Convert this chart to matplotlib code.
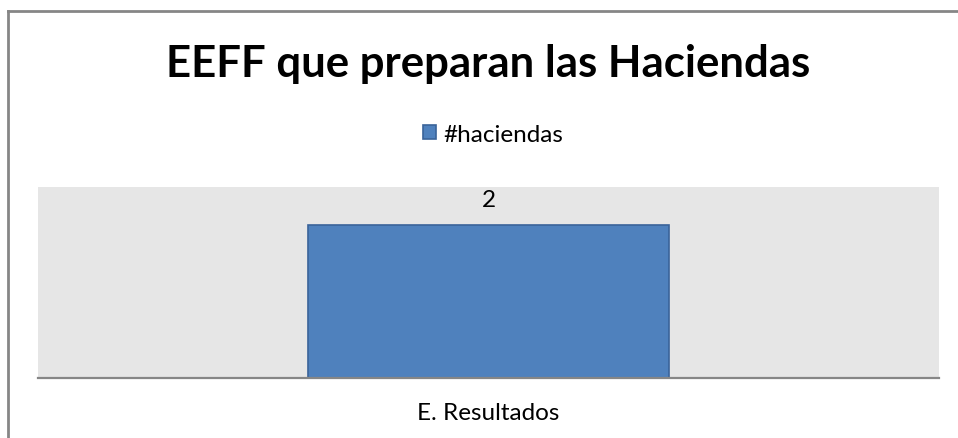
import matplotlib
matplotlib.use('Agg')
import matplotlib.pyplot as plt
from matplotlib.lines import Line2D

categorias = ['E. Resultados']
haciendas = [2]

plt.rcParams['font.family'] = ['Lato', 'DejaVu Sans']

fig = plt.figure(figsize=(9.58, 4.39), dpi=100)
ax = fig.add_axes([38/958, 60/439, 901/958, 191/439])

barras = ax.bar(range(len(categorias)), haciendas, width=0.4,
                color='#4F81BD', edgecolor='#3A639A', linewidth=1.2,
                label='#haciendas')
ax.bar_label(barras, labels=[str(v) for v in haciendas], padding=11, fontsize=17.5)

ax.set_xlim(-0.5, len(categorias) - 0.5)
ax.set_ylim(0, 2.5)
ax.set_facecolor('#E6E6E6')
ax.set_xticks(range(len(categorias)))
ax.set_xticklabels(categorias, fontsize=17.5)
ax.tick_params(axis='x', length=0, pad=17)
ax.set_yticks([])
for lado in ['top', 'left', 'right']:
    ax.spines[lado].set_visible(False)
ax.spines['bottom'].set_color('#868686')
ax.spines['bottom'].set_linewidth(1.6)

fig.text(488/958, 1 - 77/439, 'EEFF que preparan las Haciendas',
         ha='center', va='baseline', fontsize=31.5, fontweight='bold')

ax.legend(loc='center', bbox_to_anchor=(493/958, 1 - 135/439),
          bbox_transform=fig.transFigure, frameon=False, fontsize=17.5,
          handlelength=0.55, handleheight=0.55, handletextpad=0.3)

# marco del gráfico
fig.add_artist(Line2D([8/958, 1], [1 - 12/439, 1 - 12/439], color='#868686', lw=2))
fig.add_artist(Line2D([8/958, 8/958], [0, 1 - 12/439], color='#868686', lw=2))

fig.savefig('out.png', dpi=100)
